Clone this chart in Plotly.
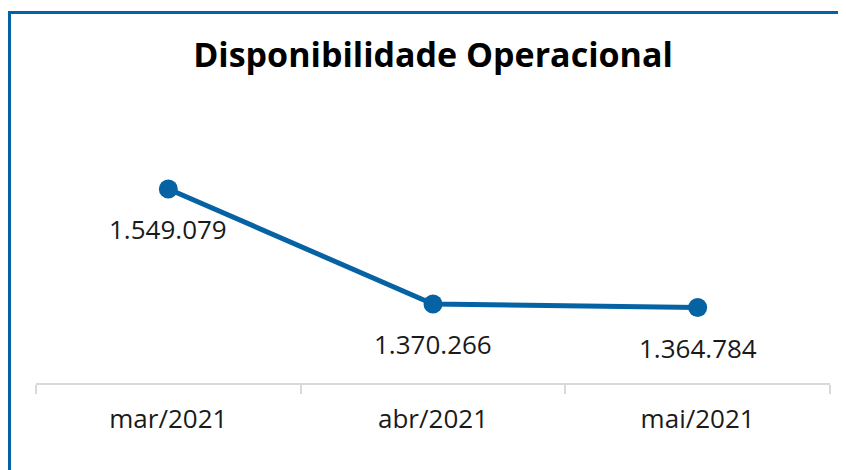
import plotly.graph_objects as go

categories = ["mar/2021", "abr/2021", "mai/2021"]
values = [1549079, 1370266, 1364784]
labels = ["1.549.079", "1.370.266", "1.364.784"]
title_text = "Disponibilidade Operacional"

BLUE = "#0563A3"
GRID = "#D9D9D9"
OFF = 8  # page body margin
W, H = 846 - OFF, 470 - OFF
ML, MR, MT, MB = 36 - OFF, 16, 100 - OFF, 87
pw = W - ML - MR
ph = H - MT - MB

def px_x(p):
    return (p - OFF - ML) / pw

def px_y(p):
    return (H - MB - (p - OFF)) / ph

fig = go.Figure()
fig.add_trace(go.Scatter(
    x=categories, y=values, mode="lines+markers",
    line=dict(color=BLUE, width=5),
    marker=dict(color=BLUE, size=19),
    hoverinfo="skip", showlegend=False,
))

for c, v, t in zip(categories, values, labels):
    fig.add_annotation(x=c, y=v, text=t, showarrow=False, yshift=-40,
                       font=dict(family="Open Sans", size=26, color="#1a1a1a"))

fig.update_layout(
    width=W, height=H,
    margin=dict(l=ML, r=MR, t=MT, b=MB),
    paper_bgcolor="white", plot_bgcolor="white",
    title=dict(text="<b>" + title_text + "</b>", x=0.5, xref="paper",
               y=1 - (55 - OFF) / H, yref="container", xanchor="center", yanchor="middle",
               font=dict(family="Open Sans", size=34, color="#000000")),
    xaxis=dict(type="category", range=[-0.5, 2.5], tickson="boundaries",
               ticks="outside", ticklen=9, tickcolor=GRID, tickwidth=2,
               showline=True, linecolor=GRID, linewidth=2, showgrid=False,
               zeroline=False, ticklabelstandoff=12,
               tickfont=dict(family="Open Sans", size=26, color="#1a1a1a")),
    yaxis=dict(range=[1247400, 1687500], visible=False, showgrid=False),
    shapes=[
        dict(type="line", xref="paper", yref="paper",
             x0=px_x(8), x1=px_x(860), y0=px_y(12.5), y1=px_y(12.5),
             line=dict(color=BLUE, width=3)),
        dict(type="line", xref="paper", yref="paper",
             x0=px_x(9.5), x1=px_x(9.5), y0=px_y(11), y1=px_y(480),
             line=dict(color=BLUE, width=3)),
    ],
)

fig.write_html("out.html")
